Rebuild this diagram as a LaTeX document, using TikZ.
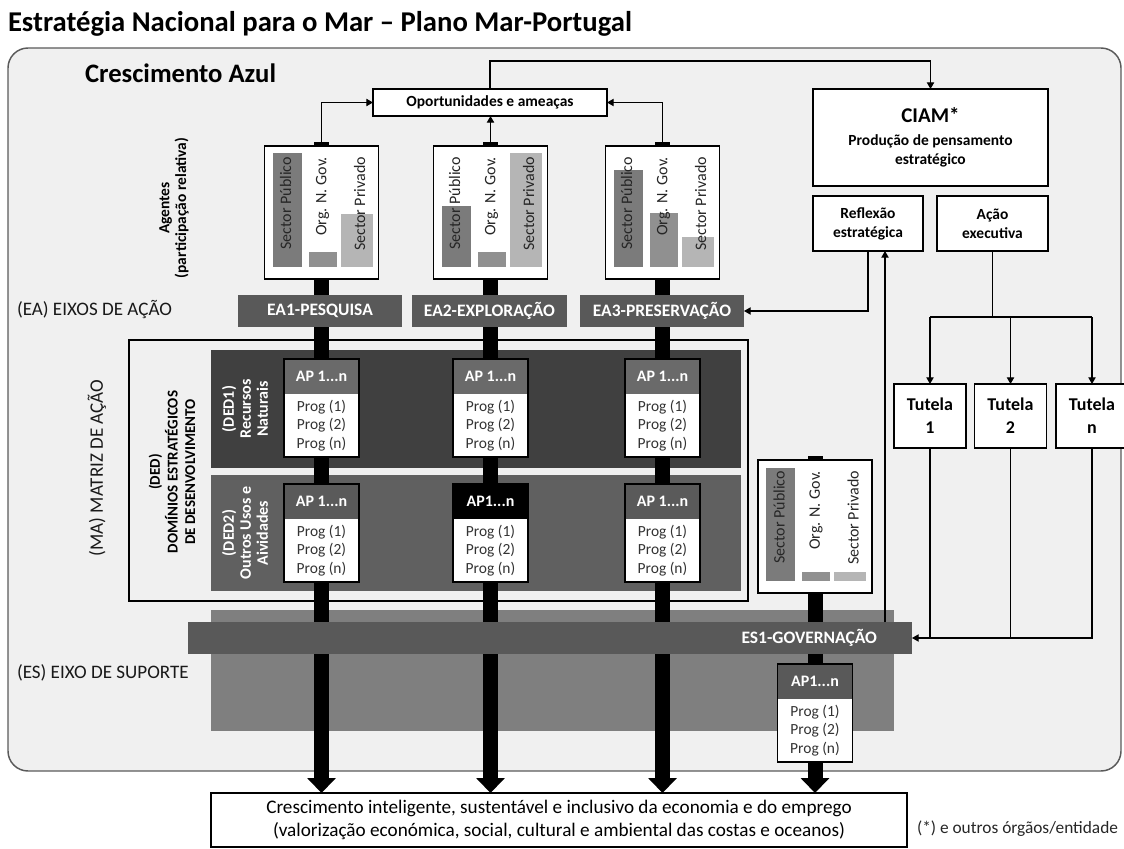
\documentclass[tikz,border=0pt]{standalone}
\usepackage{fontspec}
\setmainfont{Carlito}
\usetikzlibrary{arrows.meta,calc}
\pgfdeclarelayer{back}
\pgfdeclarelayer{bars}
\pgfsetlayers{back,bars,main}
\definecolor{bgpanel}{HTML}{F0F0F0}
\definecolor{pborder}{HTML}{5A5A5A}
\definecolor{eagray}{HTML}{595959}
\definecolor{dedone}{HTML}{404040}
\definecolor{dedtwo}{HTML}{606060}
\definecolor{espanel}{HTML}{7F7F7F}
\definecolor{barA}{HTML}{7B7B7B}
\definecolor{barB}{HTML}{909090}
\definecolor{barC}{HTML}{B5B5B5}
\definecolor{headone}{HTML}{6A6A6A}
\definecolor{headtwo}{HTML}{5A5A5A}
\newcommand\fsz[2]{\fontsize{#1}{#2}\selectfont}
\tikzset{
  every node/.style={inner sep=0pt, outer sep=0pt},
  wh/.style 2 args={minimum width={#1*0.75pt}, minimum height={#2*0.75pt}},
  box/.style={draw=black, line width=1.3pt, fill=white},
  eabox/.style={fill=eagray, text=white, font=\bfseries\fsz{13.1pt}{15pt}},
  agtxt/.style={font=\fsz{12pt}{14pt}, text=black!85},
  lbl/.style={font=\fsz{14.3pt}{16pt}, text=black!90},
  aphead/.style={text=white, font=\bfseries\fsz{12pt}{14pt}},
  apbody/.style={fill=white, align=center, text=black!80, font=\fsz{11.6pt}{14pt}},
  smallbox/.style={box, align=center, font=\bfseries\fsz{11.6pt}{14.3pt}},
  dedlbl/.style={rotate=90, align=center, text=white, font=\bfseries\fsz{12pt}{12.75pt}},
  conn/.style={draw=black, line width=0.8pt, -{Triangle[width=5.5pt,length=5pt]}},
  plain/.style={draw=black, line width=0.8pt},
  thickbar/.style={draw=black, line width=11.25pt, -{Triangle[width=21pt,length=11.25pt]}},
}
\newcommand\agent[6]{%
  \node[box, wh={114}{133}] (#1) at (#2,#3+66.5) {};
  \fill[barA] (#2-49,#4) rectangle (#2-20,#3+121);
  \fill[barB] (#2-13,#5) rectangle (#2+15,#3+121);
  \fill[barC] (#2+19,#6) rectangle (#2+51,#3+121);
  \node[agtxt, anchor=east, rotate=90] (#1p) at (#2-36,#3+11) {Sector Público};
  \node[agtxt, anchor=east, rotate=90] (#1o) at (#2+1,#3+11) {Org. N. Gov.};
  \node[agtxt, anchor=east, rotate=90] (#1s) at (#2+38,#3+11) {Sector Privado};
}
\newcommand\apbox[5]{%
  \node[aphead, fill=#4, wh={75}{35}, anchor=north] (#1h) at (#2,#3) {#5};
  \node[apbody, wh={75}{63}, anchor=north] (#1b) at (#1h.south) {Prog (1)\\Prog (2)\\Prog (n)};
  \draw[line width=1.3pt] (#1h.north west) rectangle (#1b.south east);
}
\begin{document}
\begin{tikzpicture}[x=0.75pt,y=-0.75pt]
\useasboundingbox (0,0) rectangle (1124,849);

% title
\node[anchor=base west, font=\bfseries\fsz{21.5pt}{24pt}] (title) at (8,32) {Estratégia Nacional para o Mar – Plano Mar-Portugal};

% background panels
\begin{pgfonlayer}{back}
\node[wh={1113}{723}, draw=pborder, fill=bgpanel, line width=1.1pt, rounded corners=15pt] (panel) at (564.5,409.5) {};
\node[wh={619}{261}, draw=black, line width=1.5pt] (ma) at (438.5,470.5) {};
\node[wh={530}{118}, fill=dedone] (ded1) at (476,409) {};
\node[wh={530}{116}, fill=dedtwo] (ded2) at (476,533) {};
\node[wh={683}{121}, fill=espanel] (espan) at (552.5,670.5) {};
\end{pgfonlayer}

\node[anchor=base west, font=\bfseries\fsz{20pt}{22pt}] (ca) at (85,83) {Crescimento Azul};

% left labels
\node[lbl, anchor=base west] (lea) at (17,315) {(EA) EIXOS DE AÇÃO};
\node[lbl, anchor=base west] (les) at (17,678) {(ES) EIXO DE SUPORTE};
\node[lbl, rotate=90] (lma) at (97,468) {(MA) MATRIZ DE AÇÃO};
\node[rotate=90, align=center, font=\bfseries\fsz{11.25pt}{13.2pt}] (lded) at (172,472) {(DED)\\DOMÍNIOS ESTRATÉGICOS\\DE DESENVOLVIMENTO};
\node[rotate=90, align=center, font=\bfseries\fsz{11.6pt}{12.5pt}] (lag) at (174,208) {Agentes\\(participação relativa)};
\node[dedlbl] (d1l) at (245,409) {(DED1)\\Recursos\\Naturais};
\node[dedlbl] (d2l) at (245,533) {(DED2)\\Outros Usos e\\Aividades};

% top boxes
\node[box, wh={234}{27}, font=\bfseries\fsz{11.6pt}{13pt}] (opp) at (490,102.5) {Oportunidades e ameaças};
\agent{ag1}{321.5}{146}{153}{252}{214}
\agent{ag2}{490.5}{146}{206}{252}{153}
\agent{ag3}{662.5}{146}{170}{213}{237}
\agent{ag4}{815}{460}{468}{572}{572}

% EA boxes
\node[eabox, wh={164}{32}] (ea1) at (320,311) {EA1-PESQUISA};
\node[eabox, wh={155}{32}] (ea2) at (489.5,311) {EA2-EXPLORAÇÃO};
\node[eabox, wh={164}{32}] (ea3) at (662,311) {EA3-PRESERVAÇÃO};

% AP boxes
\apbox{a11}{321.5}{359}{headone}{AP 1...n}
\apbox{a12}{490.5}{359}{headone}{AP 1...n}
\apbox{a13}{662.5}{359}{headone}{AP 1...n}
\apbox{a21}{321.5}{484}{headtwo}{AP 1...n}
\apbox{a22}{490.5}{484}{black}{AP1...n}
\apbox{a23}{662.5}{484}{headtwo}{AP 1...n}

% ES1
\node[fill=eagray, wh={724}{32}] (es1) at (550,638) {};
\node[anchor=east, text=white, font=\bfseries\fsz{13.1pt}{15pt}] (es1t) at ([xshift=-26.25pt]es1.east) {ES1-GOVERNAÇÃO};
\apbox{ag}{815}{664}{eagray}{AP1...n}

% right side
\node[box, wh={235}{97}, align=center, font=\bfseries\fsz{11.6pt}{14.3pt}] (ciam) at (930.5,137.5) {{\fsz{15.75pt}{18pt}\selectfont CIAM*}\\[3pt]Produção de pensamento\\estratégico};
\node[smallbox, wh={110}{55}] (refl) at (868,223.5) {Reflexão\\estratégica};
\node[smallbox, wh={111}{55}] (acao) at (992.5,223.5) {Ação\\executiva};
\node[box, wh={72}{64}, align=center, font=\bfseries\fsz{13.5pt}{17pt}] (t1) at (930,416) {Tutela\\1};
\node[box, wh={72}{64}, align=center, font=\bfseries\fsz{13.5pt}{17pt}] (t2) at (1010.5,416) {Tutela\\2};
\node[box, wh={72}{64}, align=center, font=\bfseries\fsz{13.5pt}{17pt}] (tn) at (1092,416) {Tutela\\n};

% output box
\node[box, wh={696}{54}, align=center, font=\fsz{14.4pt}{16.8pt}] (out) at (559,820) {Crescimento inteligente, sustentável e inclusivo da economia e do emprego\\(valorização económica, social, cultural e ambiental das costas e oceanos)};
\node[anchor=base west, font=\fsz{13pt}{15pt}, text=black!85] (fn) at (917,833) {(*) e outros órgãos/entidade};

% thick bars
\begin{pgfonlayer}{bars}
\foreach \a in {ag1,ag2,ag3,ag4} \draw[thickbar] ([yshift=3pt]\a.north) -- (\a.north |- out.north);
\end{pgfonlayer}

% connectors
\draw[conn] ([yshift=3pt]ag1.north) |- (opp.west);
\draw[conn] ([yshift=3pt]ag2.north) -- (ag2.north |- opp.south);
\draw[conn] ([yshift=3pt]ag3.north) |- (opp.east);
\draw[conn] (opp.north) -- ++(0,-28) -| (ciam.north);
\draw[conn] (refl.south) |- (ea3.east);
\draw[conn] ([xshift=12.75pt]refl.south |- es1.north) -- ([xshift=12.75pt]refl.south);
\draw[plain] (acao.south) -- ++(0,66) coordinate (split);
\draw[plain] (t1.north |- split) -- (tn.north |- split);
\foreach \t in {t1,t2,tn} \draw[conn] (\t.north |- split) -- (\t.north);
\draw[plain] (t1.south) -- (t1.south |- es1.east);
\draw[plain] (t2.south) -- (t2.south |- es1.east);
\draw[conn] (tn.south) |- (es1.east);
\end{tikzpicture}
\end{document}
